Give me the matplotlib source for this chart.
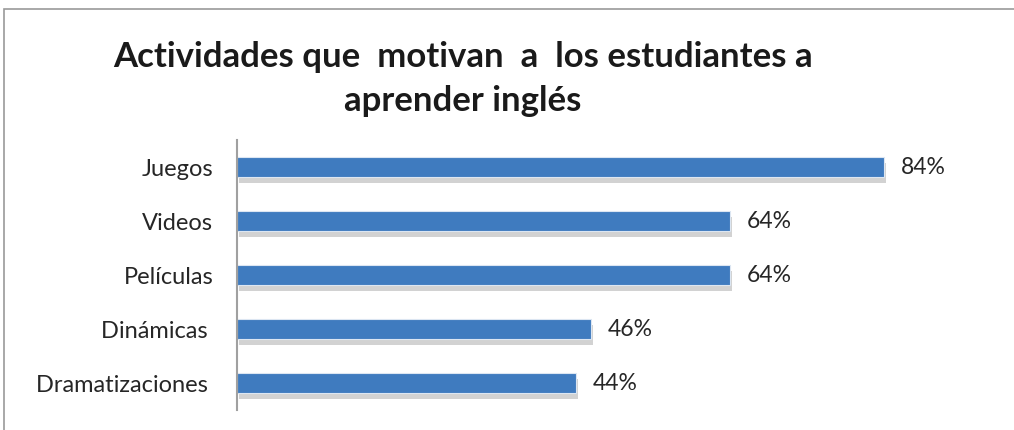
import matplotlib
matplotlib.use('Agg')
import matplotlib.pyplot as plt
import matplotlib.patheffects as pe
from matplotlib.patches import Rectangle

# Chart data
categorias = ['Juegos', 'Videos', 'Películas', 'Dinámicas ', 'Dramatizaciones ']
porcentajes = [84, 64, 64, 46, 44]
titulo = 'Actividades que  motivan  a  los estudiantes a\naprender inglés'

plt.rcParams['font.family'] = ['Lato', 'DejaVu Sans']

fig = plt.figure(figsize=(10.14, 4.3), dpi=100)
ax = fig.add_axes([237/1014, 20/430, 770/1014, 270/430])

# outer chart frame
fig.patches.append(Rectangle((4/1014, -0.1), 1.2, 1 - 9/430 + 0.1,
                             transform=fig.transFigure, fill=False,
                             edgecolor='#9a9a9a', linewidth=1.2))

y = list(range(len(categorias)))
bars = ax.barh(y, porcentajes, height=0.37, color='#3f7bbf',
               edgecolor='#dce6f2', linewidth=0.8)
for b in bars:
    b.set_path_effects([pe.SimplePatchShadow(offset=(1.5, -4), shadow_rgbFace='#909090', alpha=0.4),
                        pe.Normal()])

for yi, v in zip(y, porcentajes):
    ax.text(v + 2.2, yi, '%d%%' % v, va='center', ha='left', fontsize=16.5, color='#262626')

ax.set_yticks(y)
ax.set_yticklabels(categorias, fontsize=17, color='#262626')
ax.tick_params(axis='y', length=0, pad=17)
ax.set_xticks([])
ax.set_xlim(0, 100)
ax.set_ylim(len(categorias) - 0.5, -0.5)

for s in ['top', 'right', 'bottom']:
    ax.spines[s].set_visible(False)
ax.spines['left'].set_color('#a0a0a0')
ax.spines['left'].set_linewidth(1.5)

fig.text(463/1014, 1 - 79/430, titulo, ha='center', va='center', fontsize=25,
         fontweight='bold', color='#1a1a1a', linespacing=1.45)

plt.savefig('out.png', dpi=100)
plt.close()
